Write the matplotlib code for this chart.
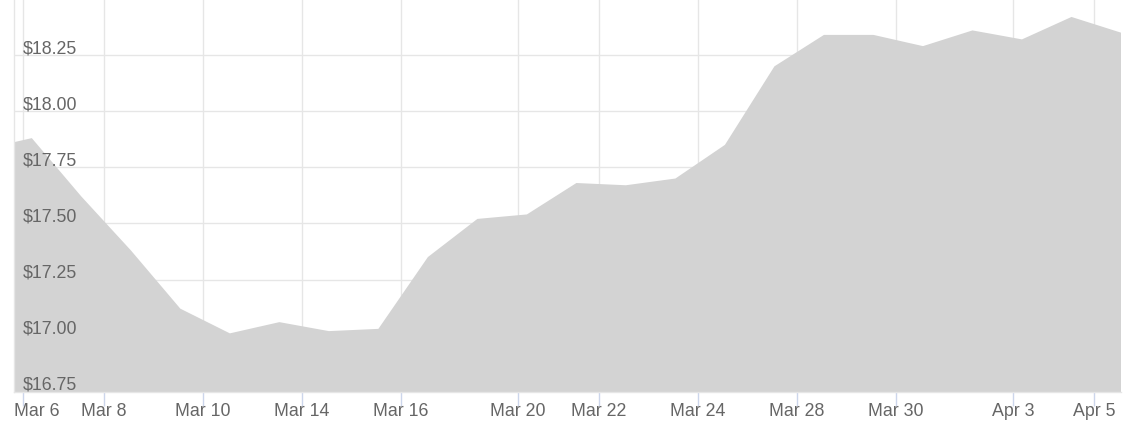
import numpy as np
import matplotlib
matplotlib.use("Agg")
from matplotlib import pyplot as plt

plt.rcParams['font.family'] = ['Liberation Sans', 'DejaVu Sans']

# trading days, 2017 (the first one sits just left of the visible range)
dates = ['2017-03-03',
         '2017-03-06', '2017-03-07', '2017-03-08', '2017-03-09', '2017-03-10',
         '2017-03-13', '2017-03-14', '2017-03-15', '2017-03-16', '2017-03-17',
         '2017-03-20', '2017-03-21', '2017-03-22', '2017-03-23', '2017-03-24',
         '2017-03-27', '2017-03-28', '2017-03-29', '2017-03-30', '2017-03-31',
         '2017-04-03', '2017-04-04', '2017-04-05']
prices = [17.83,
          17.88, 17.62, 17.38, 17.12, 17.01,
          17.06, 17.02, 17.03, 17.35, 17.52,
          17.54, 17.68, 17.67, 17.70, 17.85,
          18.20, 18.34, 18.34, 18.29, 18.36,
          18.32, 18.42, 18.35]

tick_dates = ['2017-03-06', '2017-03-08', '2017-03-10', '2017-03-14',
              '2017-03-16', '2017-03-20', '2017-03-22', '2017-03-24',
              '2017-03-28', '2017-03-30', '2017-04-03', '2017-04-05']
tick_labels = ['Mar 6', 'Mar 8', 'Mar 10', 'Mar 14', 'Mar 16', 'Mar 20',
               'Mar 22', 'Mar 24', 'Mar 28', 'Mar 30', 'Apr 3', 'Apr 5']

y_ticks = [16.75, 17.00, 17.25, 17.50, 17.75, 18.00, 18.25]

# ordinal x axis: one slot per trading day, points stamped ~13:12
x = np.arange(len(dates)) - 1
t_pts = np.array(dates, dtype='datetime64[m]') + np.timedelta64(792, 'm')
t_ticks = np.array(tick_dates, dtype='datetime64[m]')
tick_pos = np.interp(t_ticks.astype(float), t_pts.astype(float), x)

W, H = 1134, 435
fig = plt.figure(figsize=(W / 100, H / 100), dpi=100)
ax = fig.add_axes([14 / W, (H - 392.7) / H, (1121 - 14) / W, 392.7 / H])

ax.fill_between(x, prices, 0, color='#d3d3d3', lw=0, zorder=2)
ax.set_xlim(-0.36, x[-1])
ax.set_ylim(16.75, 18.5)

ax.set_yticks(y_ticks)
ax.set_xticks(tick_pos)
ax.grid(True, color='#e6e6e6', lw=1, zorder=0)
ax.set_axisbelow(True)
ax.tick_params(axis='y', length=0, labelleft=False)
ax.tick_params(axis='x', length=10, width=1, color='#ccd6eb', labelbottom=False)

for s in ['top', 'right']:
    ax.spines[s].set_visible(False)
for s in ['left', 'bottom']:
    ax.spines[s].set_color('#e6e6e6')
    ax.spines[s].set_linewidth(1)

px = 0.72  # points per pixel at dpi 100
fs = 12.8
for v in y_ticks:
    ax.annotate('$%.2f' % v, xy=(0, v), xycoords=('axes fraction', 'data'),
                xytext=(9 * px, 3 * px), textcoords='offset points',
                ha='left', va='baseline', fontsize=fs, color='#666666',
                zorder=5)

xlabels = []
for p, lab in zip(tick_pos, tick_labels):
    a = ax.annotate(lab, xy=(p, 0), xycoords=('data', 'axes fraction'),
                    xytext=(0, -23 * px), textcoords='offset points',
                    ha='center', va='baseline', fontsize=fs, color='#666666',
                    annotation_clip=False)
    xlabels.append(a)

# keep edge labels inside the plot width
fig.canvas.draw()
r = fig.canvas.get_renderer()
axb = ax.get_window_extent(r)
for a in xlabels:
    bb = a.get_window_extent(r)
    dx = 0
    if bb.x0 < axb.x0:
        dx = axb.x0 - bb.x0
    elif bb.x1 > axb.x1:
        dx = axb.x1 - bb.x1
    if dx:
        a.xyann = (a.xyann[0] + dx * px, a.xyann[1])

fig.savefig('out.png', dpi=100)
